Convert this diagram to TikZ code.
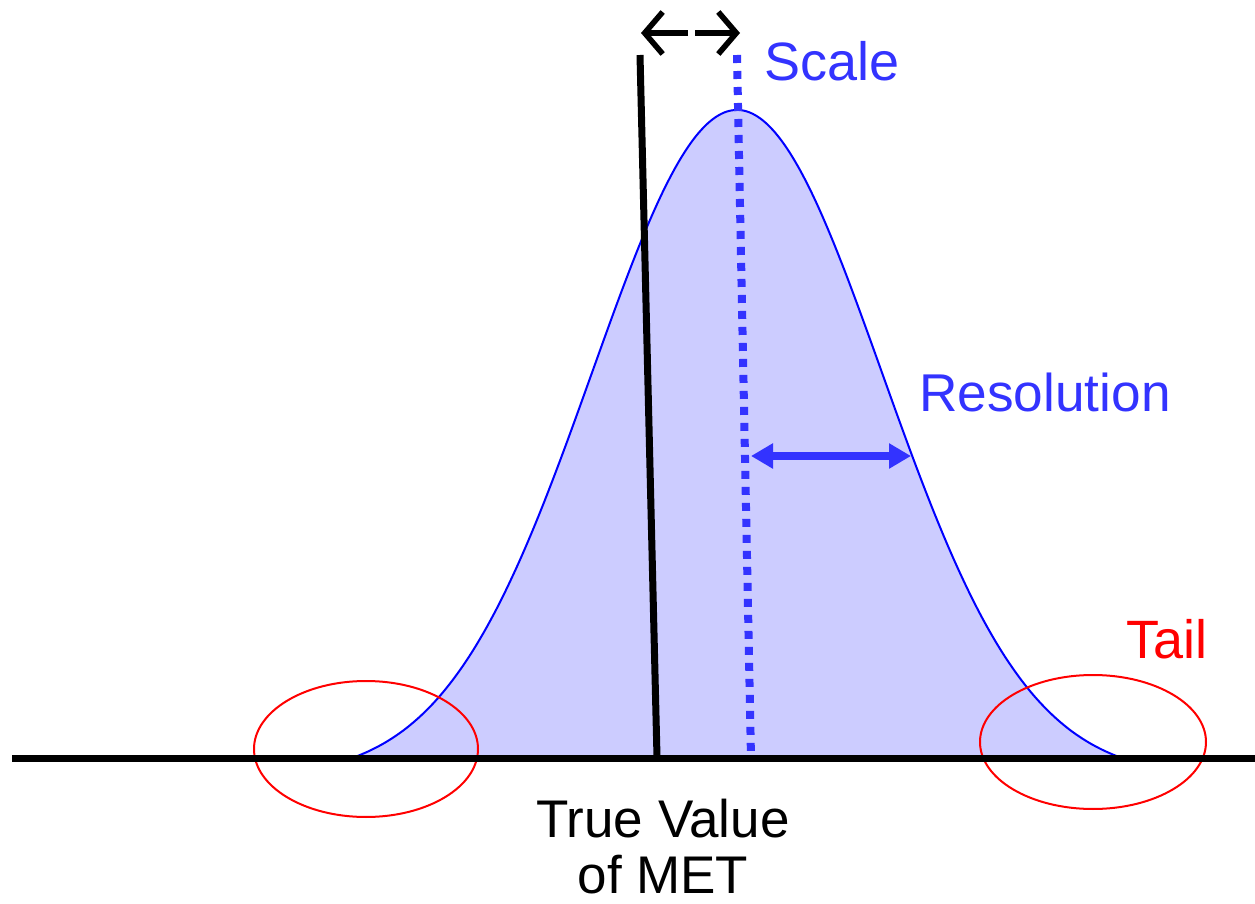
\documentclass[tikz,border=0pt]{standalone}
\usepackage{fontspec}
\setmainfont{Liberation Sans}
\usetikzlibrary{arrows.meta}
\definecolor{fillblue}{HTML}{CCCCFF}
\definecolor{curveblue}{HTML}{0000FF}
\definecolor{markblue}{HTML}{3333FF}
\definecolor{tailred}{HTML}{FF0000}
\begin{document}
\begin{tikzpicture}[x=0.5pt,y=-0.5pt,
  lbl/.style={inner sep=0pt,anchor=base west},
  axisline/.style={line width=3.5pt,black},
  trueline/.style={line width=3.5pt,black},
  scaleline/.style={line width=4pt,markblue,dash pattern=on 4pt off 4pt},
  tailring/.style={line width=1pt,tailred},
  resarrow/.style={line width=4pt,markblue,{Triangle[length=11pt,width=12pt]}-{Triangle[length=11pt,width=12pt]}},
  scalearrow/.style={line width=2.8pt,black,-{Straight Barb[length=9pt,width=21pt]}},
]
\useasboundingbox (0,0) rectangle (1255,904);
% gaussian
\fill[fillblue] plot[domain=345:1122,samples=160,smooth]
  (\x,{758-648*(exp(-0.5*((\x-737)/145)^2)-0.0295)/0.9705}) -- cycle;
\draw[curveblue,line width=1pt] plot[domain=345:1122,samples=160,smooth]
  (\x,{758-648*(exp(-0.5*((\x-737)/145)^2)-0.0295)/0.9705});
% tail ellipses
\coordinate (lt) at (366,749);
\coordinate (rt) at (1093,742);
\draw[tailring] (lt) ellipse [x radius=112, y radius=68];
\draw[tailring] (rt) ellipse [x radius=113, y radius=67];
% axis
\coordinate (axL) at (12,758);
\coordinate (axR) at (1255,758);
\draw[axisline] (axL) -- (axR);
% true value line
\coordinate (tvT) at (640,55);
\coordinate (tvB) at (657,757);
\draw[trueline] (tvT) -- (tvB);
% scale dotted line
\coordinate (scT) at (737,55);
\coordinate (scB) at (751,758);
\draw[scaleline] (scT) -- (scB);
% top arrows
\coordinate (aLs) at (688,33);
\coordinate (aLe) at (641,33);
\coordinate (aRs) at (695,33);
\coordinate (aRe) at (740,33);
\draw[scalearrow] (aLs) -- (aLe);
\draw[scalearrow] (aRs) -- (aRe);
% resolution arrow
\coordinate (r1) at (751,456);
\coordinate (r2) at (911,456);
\draw[resarrow] (r1) -- (r2);
% labels
\node[lbl,text=markblue,font=\fontsize{27}{30}\selectfont] (scale) at (764,81) {Scale};
\node[lbl,text=markblue,font=\fontsize{26.6}{30}\selectfont] (res) at (919,411) {Resolution};
\node[lbl,text=tailred,font=\fontsize{27}{30}\selectfont] (tail) at (1126,658) {Tail};
\node[inner sep=0pt,anchor=base,font=\fontsize{26.5}{30}\selectfont] (tv1) at (663,837) {True Value};
\node[inner sep=0pt,anchor=base,font=\fontsize{26.5}{30}\selectfont] (tv2) at (663,893) {of MET};
\end{tikzpicture}
\end{document}
